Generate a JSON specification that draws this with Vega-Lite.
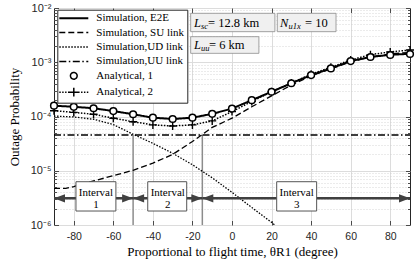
{
  "$schema": "https://vega.github.io/schema/vega-lite/v6.json",
  "width": 356,
  "height": 217,
  "autosize": "none",
  "padding": {"left": 54, "top": 8, "right": 5, "bottom": 37},
  "background": "white",
  "config": {"view": {"stroke": "#262626", "strokeWidth": 1}, "font": "Liberation Serif"},
  "resolve": {"axis": {"x": "independent", "y": "independent"}},
  "datasets": {
    "curves": [
      {"theta": -90, "p": 0.000158, "series": "E2E"},
      {"theta": -80, "p": 0.000151, "series": "E2E"},
      {"theta": -70, "p": 0.000142, "series": "E2E"},
      {"theta": -60, "p": 0.000126, "series": "E2E"},
      {"theta": -50, "p": 0.000110, "series": "E2E"},
      {"theta": -40, "p": 0.000095, "series": "E2E"},
      {"theta": -30, "p": 0.000090, "series": "E2E"},
      {"theta": -20, "p": 0.000095, "series": "E2E"},
      {"theta": -10, "p": 0.000112, "series": "E2E"},
      {"theta": 0, "p": 0.000140, "series": "E2E"},
      {"theta": 10, "p": 0.000200, "series": "E2E"},
      {"theta": 20, "p": 0.000286, "series": "E2E"},
      {"theta": 30, "p": 0.000410, "series": "E2E"},
      {"theta": 40, "p": 0.000580, "series": "E2E"},
      {"theta": 50, "p": 0.000770, "series": "E2E"},
      {"theta": 60, "p": 0.00105, "series": "E2E"},
      {"theta": 70, "p": 0.00125, "series": "E2E"},
      {"theta": 80, "p": 0.00137, "series": "E2E"},
      {"theta": 90, "p": 0.00143, "series": "E2E"},
      {"theta": -90, "p": 0.000158, "series": "A1"},
      {"theta": -80, "p": 0.000151, "series": "A1"},
      {"theta": -70, "p": 0.000142, "series": "A1"},
      {"theta": -60, "p": 0.000126, "series": "A1"},
      {"theta": -50, "p": 0.000110, "series": "A1"},
      {"theta": -40, "p": 0.000095, "series": "A1"},
      {"theta": -30, "p": 0.000090, "series": "A1"},
      {"theta": -20, "p": 0.000095, "series": "A1"},
      {"theta": -10, "p": 0.000112, "series": "A1"},
      {"theta": 0, "p": 0.000140, "series": "A1"},
      {"theta": 10, "p": 0.000200, "series": "A1"},
      {"theta": 20, "p": 0.000286, "series": "A1"},
      {"theta": 30, "p": 0.000410, "series": "A1"},
      {"theta": 40, "p": 0.000580, "series": "A1"},
      {"theta": 50, "p": 0.000770, "series": "A1"},
      {"theta": 60, "p": 0.00105, "series": "A1"},
      {"theta": 70, "p": 0.00125, "series": "A1"},
      {"theta": 80, "p": 0.00136, "series": "A1"},
      {"theta": 90, "p": 0.00142, "series": "A1"},
      {"theta": -90, "p": 0.000128, "series": "A2"},
      {"theta": -80, "p": 0.000119, "series": "A2"},
      {"theta": -70, "p": 0.000110, "series": "A2"},
      {"theta": -60, "p": 0.000093, "series": "A2"},
      {"theta": -50, "p": 0.000080, "series": "A2"},
      {"theta": -40, "p": 0.000070, "series": "A2"},
      {"theta": -30, "p": 0.000067, "series": "A2"},
      {"theta": -20, "p": 0.000070, "series": "A2"},
      {"theta": -10, "p": 0.000083, "series": "A2"},
      {"theta": 0, "p": 0.000123, "series": "A2"},
      {"theta": 10, "p": 0.000190, "series": "A2"},
      {"theta": 20, "p": 0.000285, "series": "A2"},
      {"theta": 30, "p": 0.000415, "series": "A2"},
      {"theta": 40, "p": 0.000600, "series": "A2"},
      {"theta": 50, "p": 0.000810, "series": "A2"},
      {"theta": 60, "p": 0.00110, "series": "A2"},
      {"theta": 70, "p": 0.00138, "series": "A2"},
      {"theta": 80, "p": 0.00155, "series": "A2"},
      {"theta": 90, "p": 0.00168, "series": "A2"},
      {"theta": -90, "p": 0.00000474, "series": "SU"},
      {"theta": -84, "p": 0.00000474, "series": "SU"},
      {"theta": -80, "p": 0.0000051, "series": "SU"},
      {"theta": -70, "p": 0.0000065, "series": "SU"},
      {"theta": -60, "p": 0.0000081, "series": "SU"},
      {"theta": -50, "p": 0.0000102, "series": "SU"},
      {"theta": -40, "p": 0.0000138, "series": "SU"},
      {"theta": -30, "p": 0.0000200, "series": "SU"},
      {"theta": -20, "p": 0.0000347, "series": "SU"},
      {"theta": -10, "p": 0.0000630, "series": "SU"},
      {"theta": 0, "p": 0.000093, "series": "SU"},
      {"theta": 10, "p": 0.000151, "series": "SU"},
      {"theta": 20, "p": 0.000240, "series": "SU"},
      {"theta": 30, "p": 0.000380, "series": "SU"},
      {"theta": 40, "p": 0.000560, "series": "SU"},
      {"theta": 50, "p": 0.000760, "series": "SU"},
      {"theta": 60, "p": 0.00102, "series": "SU"},
      {"theta": 70, "p": 0.00125, "series": "SU"},
      {"theta": 80, "p": 0.00142, "series": "SU"},
      {"theta": 90, "p": 0.00152, "series": "SU"},
      {"theta": -90, "p": 0.000102, "series": "UD"},
      {"theta": -80, "p": 0.000098, "series": "UD"},
      {"theta": -70, "p": 0.000089, "series": "UD"},
      {"theta": -60, "p": 0.000071, "series": "UD"},
      {"theta": -50, "p": 0.000047, "series": "UD"},
      {"theta": -40, "p": 0.000032, "series": "UD"},
      {"theta": -30, "p": 0.000021, "series": "UD"},
      {"theta": -20, "p": 0.0000129, "series": "UD"},
      {"theta": -10, "p": 0.0000074, "series": "UD"},
      {"theta": 0, "p": 0.0000040, "series": "UD"},
      {"theta": 10, "p": 0.0000021, "series": "UD"},
      {"theta": 20, "p": 0.00000112, "series": "UD"},
      {"theta": 30, "p": 0.00000056, "series": "UD"},
      {"theta": -90, "p": 0.0000456, "series": "UU"},
      {"theta": 90, "p": 0.0000456, "series": "UU"}
    ],
    "bounds": [{"theta": -50}, {"theta": -15}],
    "intervals": [
      {"from": -90, "to": -50, "box_from": -78.9, "box_to": -58.7, "label": "Interval\n1"},
      {"from": -50, "to": -15, "box_from": -42.6, "box_to": -22.9, "label": "Interval\n2"},
      {"from": -15, "to": 90, "box_from": 22.6, "box_to": 42.8, "label": "Interval\n3"}
    ],
    "notes": [
      {"x0": -20.9, "x1": 21.7, "y0": 0.00366, "y1": 0.00798},
      {"x0": 22.9, "x1": 52.6, "y0": 0.00366, "y1": 0.00798},
      {"x0": -20.9, "x1": 13.6, "y0": 0.00146, "y1": 0.00296}
    ]
  },
  "layer": [
    {
      "data": {"name": "bounds"},
      "mark": {"type": "rule", "color": "#8c8c8c", "strokeWidth": 1.5},
      "encoding": {
        "x": {"field": "theta", "type": "quantitative", "axis": null},
        "y": {"datum": 0.000001, "type": "quantitative", "axis": null},
        "y2": {"datum": 0.0000456}
      }
    },
    {
      "data": {"name": "curves"},
      "transform": [{"filter": "datum.series === 'UU'"}],
      "mark": {"type": "line", "color": "black", "strokeWidth": 1.5, "clip": true},
      "encoding": {
        "x": {"field": "theta", "type": "quantitative", "axis": null},
        "y": {"field": "p", "type": "quantitative", "axis": {"orient": "right", "values": [0.000002,0.000003,0.000004,0.000005,0.000006,0.000007,0.000008,0.000009,0.00002,0.00003,0.00004,0.00005,0.00006,0.00007,0.00008,0.00009,0.0002,0.0003,0.0004,0.0005,0.0006,0.0007,0.0008,0.0009,0.002,0.003,0.004,0.005,0.006,0.007,0.008,0.009], "labels": false, "grid": false, "domain": false, "tickSize": -2.5, "tickColor": "#262626", "tickWidth": 0.8, "title": null}},
        "strokeDash": {"datum": "Simulation,UU link"}
      }
    },
    {
      "data": {"name": "curves"},
      "transform": [{"filter": "datum.series === 'UD'"}],
      "mark": {"type": "line", "color": "black", "strokeWidth": 1.3, "clip": true},
      "encoding": {
        "x": {"field": "theta", "type": "quantitative", "axis": null},
        "y": {"field": "p", "type": "quantitative", "axis": {"orient": "right", "values": [0.000001,0.00001,0.0001,0.001,0.01], "labels": false, "grid": false, "domain": false, "tickSize": -4.5, "tickColor": "#262626", "tickWidth": 0.8, "title": null}},
        "strokeDash": {"datum": "Simulation,UD link"}
      }
    },
    {
      "data": {"name": "curves"},
      "transform": [{"filter": "datum.series === 'SU'"}],
      "mark": {"type": "line", "color": "black", "strokeWidth": 1.3, "clip": true},
      "encoding": {
        "x": {"field": "theta", "type": "quantitative", "axis": {"orient": "top", "values": [-80,-60,-40,-20,0,20,40,60,80], "labels": false, "grid": false, "domain": false, "tickSize": -4.5, "tickColor": "#262626", "tickWidth": 0.8, "title": null}},
        "y": {"field": "p", "type": "quantitative", "axis": {"orient": "left", "values": [0.000002,0.000003,0.000004,0.000005,0.000006,0.000007,0.000008,0.000009,0.00002,0.00003,0.00004,0.00005,0.00006,0.00007,0.00008,0.00009,0.0002,0.0003,0.0004,0.0005,0.0006,0.0007,0.0008,0.0009,0.002,0.003,0.004,0.005,0.006,0.007,0.008,0.009], "labels": false, "grid": true, "gridColor": "#cccccc", "gridDash": [1, 2], "gridWidth": 0.8, "domain": false, "tickSize": -2.5, "tickColor": "#262626", "tickWidth": 0.8, "title": null}},
        "strokeDash": {"datum": "Simulation, SU link"}
      }
    },
    {
      "data": {"name": "curves"},
      "transform": [{"filter": "datum.series === 'A2'"}],
      "mark": {"type": "line", "color": "black", "strokeWidth": 1.5, "strokeDash": [1.5, 1.5], "clip": true},
      "encoding": {
        "x": {"field": "theta", "type": "quantitative", "axis": null},
        "y": {"field": "p", "type": "quantitative", "axis": null}
      }
    },
    {
      "data": {"name": "curves"},
      "transform": [{"filter": "datum.series === 'E2E'"}],
      "mark": {"type": "line", "color": "black", "strokeWidth": 2, "clip": true},
      "encoding": {
        "x": {
          "field": "theta", "type": "quantitative",
          "scale": {"domain": [-90, 90], "nice": false, "zero": false},
          "axis": {"orient": "bottom", "values": [-80,-60,-40,-20,0,20,40,60,80], "labelExpr": "datum.value + ''", "grid": true, "gridColor": "#dcdcdc", "gridWidth": 1, "domain": false, "tickSize": -4.5, "tickColor": "#262626", "tickWidth": 0.8, "labelPadding": 11, "labelFont": "Liberation Sans", "labelFontSize": 10.5, "labelColor": "#262626", "labelFlush": false, "title": "Proportional to flight time, θR1 (degree)", "titleFont": "Liberation Serif", "titleFontSize": 13, "titleFontWeight": "normal", "titleColor": "black", "titleY": 30, "titleBaseline": "alphabetic"}
        },
        "y": {
          "field": "p", "type": "quantitative",
          "scale": {"type": "log", "domain": [0.000001, 0.01], "nice": false},
          "axis": {"orient": "left", "values": [0.000001,0.00001,0.0001,0.001,0.01], "labelExpr": "'10' + ['⁰','⁻¹','⁻²','⁻³','⁻⁴','⁻⁵','⁻⁶'][round(-log(datum.value)/LN10)]", "grid": true, "gridColor": "#dcdcdc", "gridWidth": 1, "domain": false, "tickSize": -4.5, "tickColor": "#262626", "tickWidth": 0.8, "labelPadding": 7.5, "labelFont": "Liberation Sans", "labelFontSize": 11, "labelColor": "#262626", "title": "Outage Probability", "titleFont": "Liberation Serif", "titleFontSize": 13, "titleFontWeight": "normal", "titleColor": "black", "titleX": -40, "titleBaseline": "middle"}
        },
        "strokeDash": {
          "datum": "Simulation, E2E",
          "scale": {
            "domain": ["Simulation, E2E", "Simulation, SU link", "Simulation,UD link", "Simulation,UU link", "Analytical, 1", "Analytical, 2"],
            "range": [[1, 0], [6, 3], [1.5, 1.5], [7, 2.5, 1.5, 2.5], [1, 0], [1, 0]]
          },
          "legend": {
            "orient": "none", "legendX": 3.3, "legendY": 1.7,
            "title": null, "padding": 3,
            "fillColor": "white", "strokeColor": "#262626",
            "symbolType": "stroke", "symbolSize": 100, "symbolStrokeColor": "black", "symbolStrokeWidth": 1.4,
            "symbolOffset": 8, "labelOffset": 17,
            "labelFont": "Liberation Serif", "labelFontSize": 11, "labelColor": "black",
            "rowPadding": 2.4,
            "encode": {"symbols": {"update": {
              "shape": {"signal": "datum.value === 'Analytical, 1' ? 'circle' : datum.value === 'Analytical, 2' ? 'M-1,0H-0.9M-0.8,0H-0.7M-0.6,0H-0.5M-0.4,0H-0.3M0.3,0H0.4M0.5,0H0.6M0.7,0H0.8M0.9,0H1M-0.3,0H0.3M0,-0.3V0.3' : 'stroke'"},
              "size": {"signal": "datum.value === 'Analytical, 1' ? 45 : 841"},
              "fill": {"signal": "datum.value === 'Analytical, 1' ? 'white' : 'transparent'"},
              "strokeWidth": {"signal": "datum.value === 'Simulation, E2E' ? 2 : 1.5"},
              "stroke": {"value": "black"}
            }}}
          }
        }
      }
    },
    {
      "data": {"name": "curves"},
      "transform": [{"filter": "datum.series === 'A2'"}],
      "mark": {"type": "point", "shape": "M-1,0H1M0,-1V1", "filled": false, "stroke": "black", "strokeWidth": 1.4, "size": 64, "opacity": 1},
      "encoding": {
        "x": {"field": "theta", "type": "quantitative", "axis": null},
        "y": {"field": "p", "type": "quantitative", "axis": null}
      }
    },
    {
      "data": {"name": "curves"},
      "transform": [{"filter": "datum.series === 'A1'"}],
      "mark": {"type": "point", "shape": "circle", "filled": true, "fill": "white", "stroke": "black", "strokeWidth": 1.5, "size": 45, "opacity": 1},
      "encoding": {
        "x": {"field": "theta", "type": "quantitative", "axis": null},
        "y": {"field": "p", "type": "quantitative", "axis": null}
      }
    },
    {
      "data": {"name": "intervals"},
      "mark": {"type": "rule", "color": "#404040", "strokeWidth": 2.5},
      "encoding": {
        "x": {"field": "from", "type": "quantitative", "axis": null},
        "x2": {"field": "to"},
        "y": {"datum": 0.0000031, "type": "quantitative", "axis": null}
      }
    },
    {
      "data": {"name": "intervals"},
      "mark": {"type": "point", "shape": "M0,0L2,-0.75L2,0.75Z", "filled": true, "color": "#404040", "size": 121, "opacity": 1},
      "encoding": {
        "x": {"field": "from", "type": "quantitative", "axis": null},
        "y": {"datum": 0.0000031, "type": "quantitative", "axis": null}
      }
    },
    {
      "data": {"name": "intervals"},
      "mark": {"type": "point", "shape": "M0,0L-2,-0.75L-2,0.75Z", "filled": true, "color": "#404040", "size": 121, "opacity": 1},
      "encoding": {
        "x": {"field": "to", "type": "quantitative", "axis": null},
        "y": {"datum": 0.0000031, "type": "quantitative", "axis": null}
      }
    },
    {
      "data": {"name": "intervals"},
      "mark": {"type": "rect", "fill": "white", "stroke": "#555555", "strokeWidth": 1},
      "encoding": {
        "x": {"field": "box_from", "type": "quantitative", "axis": null},
        "x2": {"field": "box_to"},
        "y": {"datum": 0.00000181, "type": "quantitative", "axis": null},
        "y2": {"datum": 0.00000628}
      }
    },
    {
      "data": {"name": "intervals"},
      "mark": {"type": "text", "font": "Liberation Serif", "fontSize": 11, "lineBreak": "\n", "lineHeight": 12.5, "align": "center", "baseline": "middle", "dx": 20, "dy": -3, "color": "black"},
      "encoding": {
        "x": {"field": "box_from", "type": "quantitative", "axis": null},
        "y": {"datum": 0.00000345, "type": "quantitative", "axis": null},
        "text": {"field": "label"}
      }
    },
    {
      "data": {"name": "notes"},
      "mark": {"type": "rect", "fill": "#f0f0f0", "stroke": "#8c8c8c", "strokeWidth": 0.8},
      "encoding": {
        "x": {"field": "x0", "type": "quantitative", "axis": null},
        "x2": {"field": "x1"},
        "y": {"field": "y0", "type": "quantitative", "axis": null},
        "y2": {"field": "y1"}
      }
    },
    {
      "data": {"values": [{}]},
      "mark": {"type": "text", "text": "L", "font": "Liberation Serif", "fontStyle": "italic", "fontSize": 12.5, "align": "left", "baseline": "middle", "color": "black"},
      "encoding": {"x": {"datum": -19.2, "type": "quantitative", "axis": null}, "y": {"datum": 0.0054, "type": "quantitative", "axis": null}}
    },
    {
      "data": {"values": [{}]},
      "mark": {"type": "text", "text": "sc", "font": "Liberation Serif", "fontStyle": "italic", "fontSize": 8.5, "align": "left", "baseline": "middle", "dx": 7, "dy": 3.5, "color": "black"},
      "encoding": {"x": {"datum": -19.2, "type": "quantitative", "axis": null}, "y": {"datum": 0.0054, "type": "quantitative", "axis": null}}
    },
    {
      "data": {"values": [{}]},
      "mark": {"type": "text", "text": "=  12.8 km", "font": "Liberation Serif", "fontSize": 12.5, "align": "left", "baseline": "middle", "dx": 14, "color": "black"},
      "encoding": {"x": {"datum": -19.2, "type": "quantitative", "axis": null}, "y": {"datum": 0.0054, "type": "quantitative", "axis": null}}
    },
    {
      "data": {"values": [{}]},
      "mark": {"type": "text", "text": "N", "font": "Liberation Serif", "fontStyle": "italic", "fontSize": 12.5, "align": "left", "baseline": "middle", "color": "black"},
      "encoding": {"x": {"datum": 24.3, "type": "quantitative", "axis": null}, "y": {"datum": 0.0054, "type": "quantitative", "axis": null}}
    },
    {
      "data": {"values": [{}]},
      "mark": {"type": "text", "text": "u1x", "font": "Liberation Serif", "fontStyle": "italic", "fontSize": 8.5, "align": "left", "baseline": "middle", "dx": 8.5, "dy": 3.5, "color": "black"},
      "encoding": {"x": {"datum": 24.3, "type": "quantitative", "axis": null}, "y": {"datum": 0.0054, "type": "quantitative", "axis": null}}
    },
    {
      "data": {"values": [{}]},
      "mark": {"type": "text", "text": "=  10", "font": "Liberation Serif", "fontSize": 12.5, "align": "left", "baseline": "middle", "dx": 25, "color": "black"},
      "encoding": {"x": {"datum": 24.3, "type": "quantitative", "axis": null}, "y": {"datum": 0.0054, "type": "quantitative", "axis": null}}
    },
    {
      "data": {"values": [{}]},
      "mark": {"type": "text", "text": "L", "font": "Liberation Serif", "fontStyle": "italic", "fontSize": 12.5, "align": "left", "baseline": "middle", "color": "black"},
      "encoding": {"x": {"datum": -19.2, "type": "quantitative", "axis": null}, "y": {"datum": 0.00208, "type": "quantitative", "axis": null}}
    },
    {
      "data": {"values": [{}]},
      "mark": {"type": "text", "text": "uu", "font": "Liberation Serif", "fontStyle": "italic", "fontSize": 8.5, "align": "left", "baseline": "middle", "dx": 7, "dy": 3.5, "color": "black"},
      "encoding": {"x": {"datum": -19.2, "type": "quantitative", "axis": null}, "y": {"datum": 0.00208, "type": "quantitative", "axis": null}}
    },
    {
      "data": {"values": [{}]},
      "mark": {"type": "text", "text": "=  6 km", "font": "Liberation Serif", "fontSize": 12.5, "align": "left", "baseline": "middle", "dx": 15, "color": "black"},
      "encoding": {"x": {"datum": -19.2, "type": "quantitative", "axis": null}, "y": {"datum": 0.00208, "type": "quantitative", "axis": null}}
    }
  ]
}
